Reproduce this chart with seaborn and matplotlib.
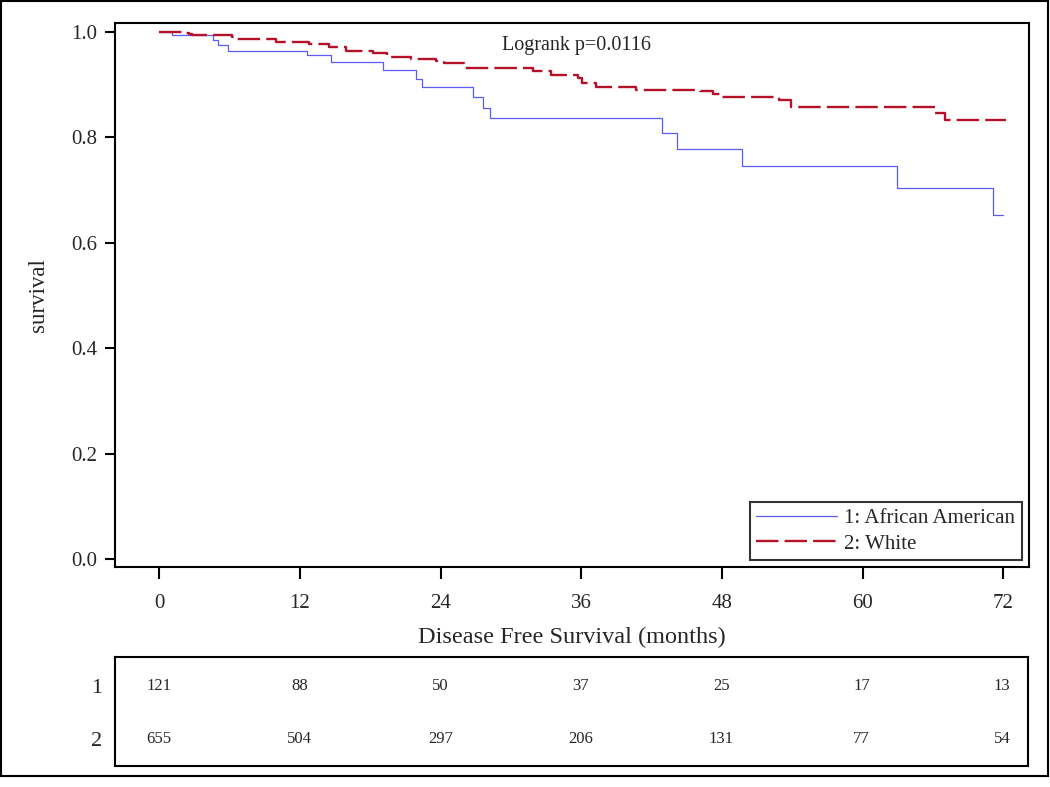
import numpy as np
import pandas as pd
import matplotlib
matplotlib.use("Agg")
import matplotlib.pyplot as plt
import seaborn as sns
from matplotlib.patches import Rectangle

# ---- data ----
groups = ["1: African American", "2: White"]
times_aa = [0, 1.05, 4.55, 4.98, 5.83, 12.58, 14.66, 19.07, 21.86, 22.4, 26.76, 27.6,
            28.18, 42.9, 44.18, 49.7, 62.9, 71.1, 72]
surv_aa = [1.0, 0.993, 0.984, 0.975, 0.964, 0.955, 0.943, 0.927, 0.911, 0.896, 0.877, 0.855,
           0.836, 0.808, 0.778, 0.746, 0.703, 0.652, 0.652]
times_w = [0, 2.05, 2.56, 2.8, 6.2, 6.6, 9.96, 12.8, 14.5, 15.9, 18.2, 19.4, 21.5, 23.6,
           24.3, 26.0, 31.9, 33.4, 35.7, 36.1, 37.3, 40.7, 46.1, 47.2, 48.0, 52.9, 53.9,
           66.2, 67.0, 72.2]
surv_w = [1.0, 0.998, 0.996, 0.993, 0.990, 0.987, 0.980, 0.977, 0.971, 0.964, 0.960, 0.953,
          0.948, 0.944, 0.940, 0.931, 0.925, 0.918, 0.912, 0.903, 0.896, 0.890, 0.887, 0.881,
          0.877, 0.871, 0.858, 0.846, 0.832, 0.832]
risk_times = [0, 12, 24, 36, 48, 60, 72]
risk_row_labels = ["1", "2"]
risk_aa = [121, 88, 50, 37, 25, 17, 13]
risk_w = [655, 504, 297, 206, 131, 77, 54]
x_ticks = [0, 12, 24, 36, 48, 60, 72]
y_ticks = [0.0, 0.2, 0.4, 0.6, 0.8, 1.0]
pvalue_text = "Logrank p=0.0116"

df = pd.concat([
    pd.DataFrame({"time": times_aa, "surv": surv_aa, "group": groups[0]}),
    pd.DataFrame({"time": times_w, "surv": surv_w, "group": groups[1]}),
], ignore_index=True)

sns.set_style("white")
plt.rcParams["font.family"] = ["Liberation Serif", "DejaVu Serif"]

fig = plt.figure(figsize=(10.5, 7.87), dpi=100)
W, H = 1050, 787

def axrect(l, t, r, b):
    return [l / W, (H - b) / H, (r - l) / W, (b - t) / H]

ax = fig.add_axes(axrect(115, 23, 1029, 567))
blue = "#5c5cf5"
red = "#b5122a"
sns.lineplot(data=df, x="time", y="surv", hue="group", style="group",
             palette={groups[0]: blue, groups[1]: red},
             dashes={groups[0]: "", groups[1]: (9.5, 2.6)},
             estimator=None, sort=False, drawstyle="steps-post",
             legend=False, ax=ax)
lines = ax.get_lines()
lines[0].set_linewidth(0.9)
lines[1].set_linewidth(1.7)

ax.set_xlim(-3.78, 74.2)
ax.set_ylim(-0.0146, 1.0165)
ax.set_xticks(x_ticks)
ax.set_yticks(y_ticks)
ax.set_yticklabels([f"{v:.1f}" for v in y_ticks])
for s in ax.spines.values():
    s.set_linewidth(1.5)
    s.set_color("black")
ax.tick_params(axis="both", direction="out", width=1.5, color="black", labelsize=15,
               bottom=True, left=True)
ax.tick_params(axis="y", length=7, pad=6)
ax.tick_params(axis="x", length=8.5, pad=11)
ax.set_xlabel("Disease Free Survival (months)", fontsize=17.5, labelpad=10)
ax.set_ylabel("survival", fontsize=16.5, labelpad=16)

ax.text(0.5046, 0.9595, pvalue_text, transform=ax.transAxes, ha="center", va="center",
        fontsize=14.5)

leg = ax.legend(lines[:2], groups, loc="lower right", bbox_to_anchor=(0.992, 0.0129),
                borderaxespad=0, fancybox=False, frameon=True, edgecolor="black",
                fontsize=15, handlelength=3.9, handletextpad=0.35,
                borderpad=0.3, labelspacing=0.3)
leg.get_frame().set_linewidth(1.5)

# risk table
ax2 = fig.add_axes(axrect(115, 657, 1028, 766))
ax2.set_xlim(-3.78, 74.2)
ax2.set_ylim(0, 1)
for s in ax2.spines.values():
    s.set_linewidth(1.5)
    s.set_color("black")
ax2.set_xticks([])
ax2.set_yticks([0.734, 0.248])
ax2.set_yticklabels(risk_row_labels, fontsize=16)
ax2.tick_params(axis="y", length=0, pad=9, left=True)
for t, a, w in zip(risk_times, risk_aa, risk_w):
    ax2.text(t, 0.734, str(a), ha="center", va="center", fontsize=12)
    ax2.text(t, 0.248, str(w), ha="center", va="center", fontsize=12)

# outer border
fig.patches.append(Rectangle((1 / W, (H - 776) / H), 1047 / W, 775 / H,
                             transform=fig.transFigure, fill=False,
                             edgecolor="black", linewidth=1.5))

fig.savefig("out.png", dpi=100)
